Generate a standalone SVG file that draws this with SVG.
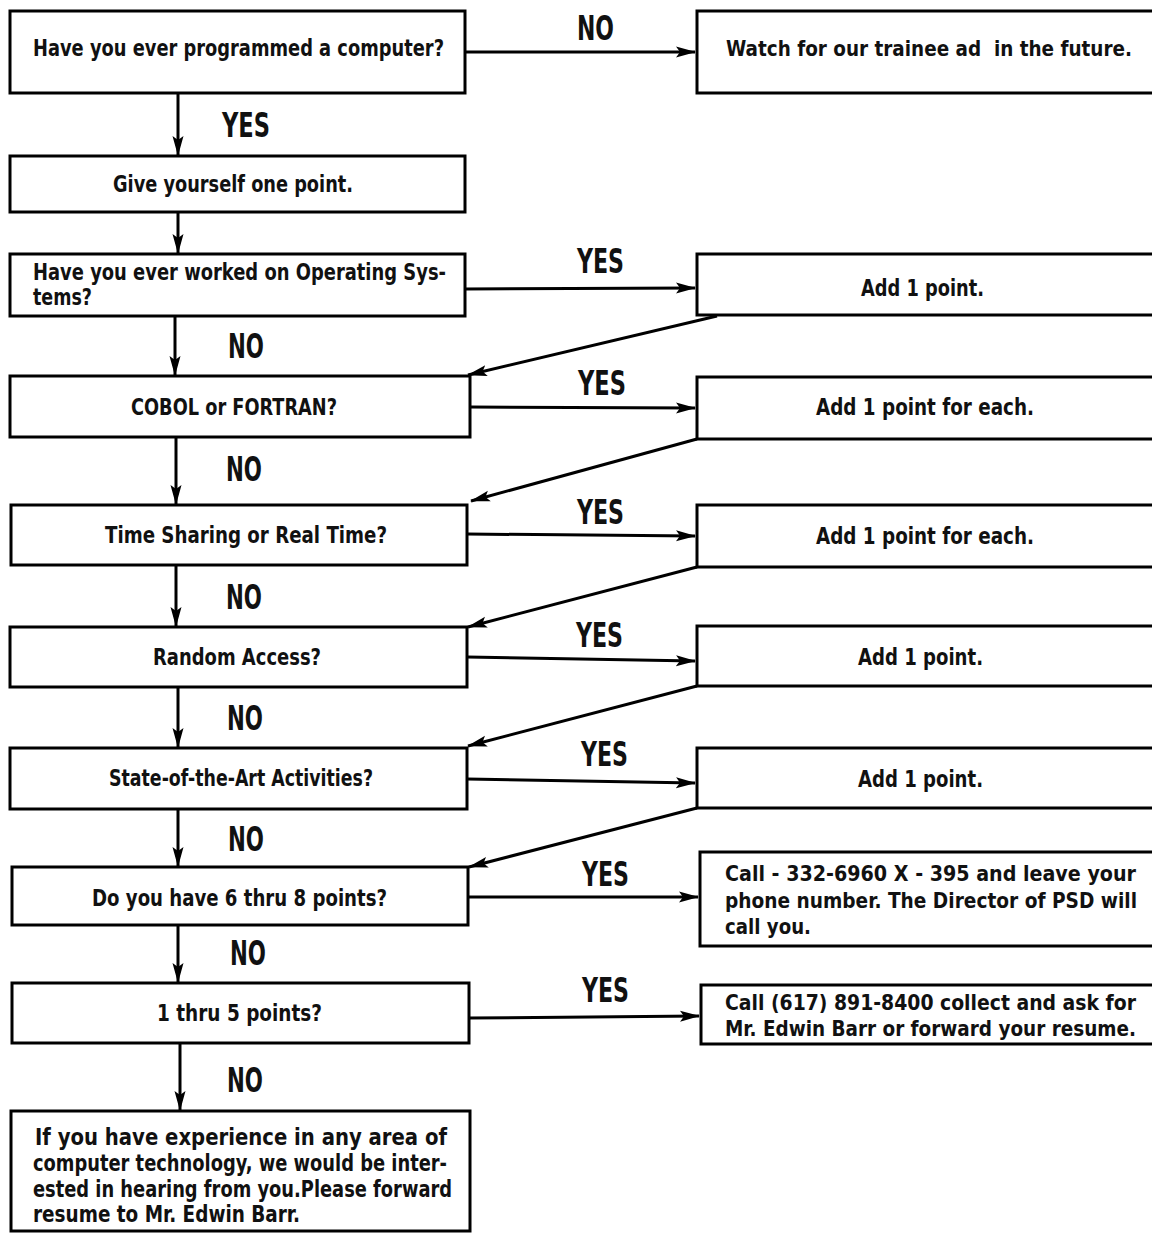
<svg xmlns="http://www.w3.org/2000/svg" width="1152" height="1233" viewBox="0 0 1152 1233">
<style>
.box{fill:#fff;stroke:#000;stroke-width:3}
.t{font-family:"Liberation Sans Narrow","DejaVu Sans Condensed","Liberation Sans",sans-serif;font-weight:bold;font-size:23px;fill:#111}
.s{font-size:21.3px}
.lbl{font-family:"Liberation Sans Narrow","DejaVu Sans Condensed","Liberation Sans",sans-serif;font-weight:bold;font-size:34px;fill:#111}
.c{fill:none;stroke:#000;stroke-width:3;marker-end:url(#ah)}
</style>
<defs>
<marker id="ah" markerUnits="userSpaceOnUse" markerWidth="22" markerHeight="14" refX="19" refY="7" orient="auto">
<path d="M0,1.5 L20,7 L0,12.5 L4,7 Z" fill="#000"/>
</marker>
</defs>
<rect width="1152" height="1233" fill="#fff"/>

<g id="connectors">
<path class="c" d="M465,52 L695,52"/>
<path class="c" d="M178,93 L178,155"/>
<path class="c" d="M178,212 L178,253"/>
<path class="c" d="M465,289 L695,288"/>
<path class="c" d="M717,316 L468,375"/>
<path class="c" d="M175,316 L175,375"/>
<path class="c" d="M470,407 L695,408"/>
<path class="c" d="M697,439 L471,501"/>
<path class="c" d="M176,437 L176,504"/>
<path class="c" d="M467,534 L695,536"/>
<path class="c" d="M697,567 L468,627"/>
<path class="c" d="M176,565 L176,626"/>
<path class="c" d="M467,657 L695,661"/>
<path class="c" d="M697,686 L468,746"/>
<path class="c" d="M178,687 L178,747"/>
<path class="c" d="M467,779 L695,783"/>
<path class="c" d="M697,808 L469,867"/>
<path class="c" d="M178,809 L178,866"/>
<path class="c" d="M468,897 L698,897"/>
<path class="c" d="M178,925 L178,982"/>
<path class="c" d="M469,1018 L699,1016"/>
<path class="c" d="M180,1043 L180,1110"/>
<text class="lbl" x="577" y="40" textLength="37" lengthAdjust="spacingAndGlyphs">NO</text>
<text class="lbl" x="222" y="137" textLength="48" lengthAdjust="spacingAndGlyphs">YES</text>
<text class="lbl" x="577" y="273" textLength="47" lengthAdjust="spacingAndGlyphs">YES</text>
<text class="lbl" x="228" y="358" textLength="36" lengthAdjust="spacingAndGlyphs">NO</text>
<text class="lbl" x="578" y="395" textLength="48" lengthAdjust="spacingAndGlyphs">YES</text>
<text class="lbl" x="226" y="481" textLength="36" lengthAdjust="spacingAndGlyphs">NO</text>
<text class="lbl" x="577" y="524" textLength="47" lengthAdjust="spacingAndGlyphs">YES</text>
<text class="lbl" x="226" y="609" textLength="36" lengthAdjust="spacingAndGlyphs">NO</text>
<text class="lbl" x="576" y="647" textLength="47" lengthAdjust="spacingAndGlyphs">YES</text>
<text class="lbl" x="227" y="730" textLength="36" lengthAdjust="spacingAndGlyphs">NO</text>
<text class="lbl" x="581" y="766" textLength="47" lengthAdjust="spacingAndGlyphs">YES</text>
<text class="lbl" x="228" y="851" textLength="36" lengthAdjust="spacingAndGlyphs">NO</text>
<text class="lbl" x="582" y="886" textLength="47" lengthAdjust="spacingAndGlyphs">YES</text>
<text class="lbl" x="230" y="965" textLength="36" lengthAdjust="spacingAndGlyphs">NO</text>
<text class="lbl" x="582" y="1002" textLength="47" lengthAdjust="spacingAndGlyphs">YES</text>
<text class="lbl" x="227" y="1092" textLength="36" lengthAdjust="spacingAndGlyphs">NO</text>
</g>

<g id="q1">
<rect class="box" x="10" y="11" width="455" height="82"/>
<text class="t" x="33" y="56" textLength="411" lengthAdjust="spacingAndGlyphs">Have you ever programmed a computer?</text>
</g>
<g id="r1">
<path class="box" d="M1152,11 H697 V93 H1152"/>
<text class="t s" x="726" y="56" textLength="406" lengthAdjust="spacingAndGlyphs" xml:space="preserve">Watch for our trainee ad  in the future.</text>
</g>
<g id="n2">
<rect class="box" x="10" y="156" width="455" height="56"/>
<text class="t" x="113" y="192" textLength="240" lengthAdjust="spacingAndGlyphs">Give yourself one point.</text>
</g>
<g id="q3">
<rect class="box" x="10" y="254" width="455" height="62"/>
<text class="t" x="33" y="280" font-size="22" textLength="413" lengthAdjust="spacingAndGlyphs">Have you ever worked on Operating Sys-</text>
<text class="t" x="33" y="305" font-size="22" textLength="59" lengthAdjust="spacingAndGlyphs">tems?</text>
</g>
<g id="r3">
<path class="box" d="M1152,254 H697 V315 H1152"/>
<text class="t" x="861" y="296" textLength="123" lengthAdjust="spacingAndGlyphs">Add 1 point.</text>
</g>
<g id="q4">
<rect class="box" x="10" y="376" width="460" height="61"/>
<text class="t" x="131" y="415" textLength="206" lengthAdjust="spacingAndGlyphs">COBOL or FORTRAN?</text>
</g>
<g id="r4">
<path class="box" d="M1152,377 H697 V439 H1152"/>
<text class="t" x="816" y="415" textLength="218" lengthAdjust="spacingAndGlyphs">Add 1 point for each.</text>
</g>
<g id="q5">
<rect class="box" x="11" y="505" width="456" height="60"/>
<text class="t" x="105" y="543" textLength="282" lengthAdjust="spacingAndGlyphs">Time Sharing or Real Time?</text>
</g>
<g id="r5">
<path class="box" d="M1152,505 H697 V567 H1152"/>
<text class="t" x="816" y="544" textLength="218" lengthAdjust="spacingAndGlyphs">Add 1 point for each.</text>
</g>
<g id="q6">
<rect class="box" x="10" y="627" width="457" height="60"/>
<text class="t" x="153" y="665" textLength="168" lengthAdjust="spacingAndGlyphs">Random Access?</text>
</g>
<g id="r6">
<path class="box" d="M1152,626 H697 V686 H1152"/>
<text class="t" x="858" y="665" textLength="125" lengthAdjust="spacingAndGlyphs">Add 1 point.</text>
</g>
<g id="q7">
<rect class="box" x="10" y="748" width="457" height="61"/>
<text class="t" x="109" y="786" textLength="264" lengthAdjust="spacingAndGlyphs">State-of-the-Art Activities?</text>
</g>
<g id="r7">
<path class="box" d="M1152,748 H697 V808 H1152"/>
<text class="t" x="858" y="787" textLength="125" lengthAdjust="spacingAndGlyphs">Add 1 point.</text>
</g>
<g id="q8">
<rect class="box" x="12" y="867" width="456" height="58"/>
<text class="t" x="92" y="906" textLength="295" lengthAdjust="spacingAndGlyphs">Do you have 6 thru 8 points?</text>
</g>
<g id="r8">
<path class="box" d="M1152,852 H700 V946 H1152"/>
<text class="t s" x="725" y="881" textLength="411" lengthAdjust="spacingAndGlyphs">Call - 332-6960 X - 395 and leave your</text>
<text class="t s" x="725" y="908" textLength="412" lengthAdjust="spacingAndGlyphs">phone number. The Director of PSD will</text>
<text class="t s" x="725" y="934" textLength="86" lengthAdjust="spacingAndGlyphs">call you.</text>
</g>
<g id="q9">
<rect class="box" x="12" y="983" width="457" height="60"/>
<text class="t" x="157" y="1021" textLength="165" lengthAdjust="spacingAndGlyphs">1 thru 5 points?</text>
</g>
<g id="r9">
<path class="box" d="M1152,985 H701 V1044 H1152"/>
<text class="t s" x="725" y="1010" textLength="411" lengthAdjust="spacingAndGlyphs">Call (617) 891-8400 collect and ask for</text>
<text class="t s" x="725" y="1036" textLength="411" lengthAdjust="spacingAndGlyphs">Mr. Edwin Barr or forward your resume.</text>
</g>
<g id="end">
<rect class="box" x="11" y="1111" width="459" height="120"/>
<text class="t" x="35" y="1145" textLength="412" lengthAdjust="spacingAndGlyphs">If you have experience in any area of</text>
<text class="t" x="33" y="1171" textLength="414" lengthAdjust="spacingAndGlyphs">computer technology, we would be inter-</text>
<text class="t" x="33" y="1197" textLength="419" lengthAdjust="spacingAndGlyphs">ested in hearing from you.Please forward</text>
<text class="t" x="33" y="1222" textLength="267" lengthAdjust="spacingAndGlyphs">resume to Mr. Edwin Barr.</text>
</g>
</svg>
